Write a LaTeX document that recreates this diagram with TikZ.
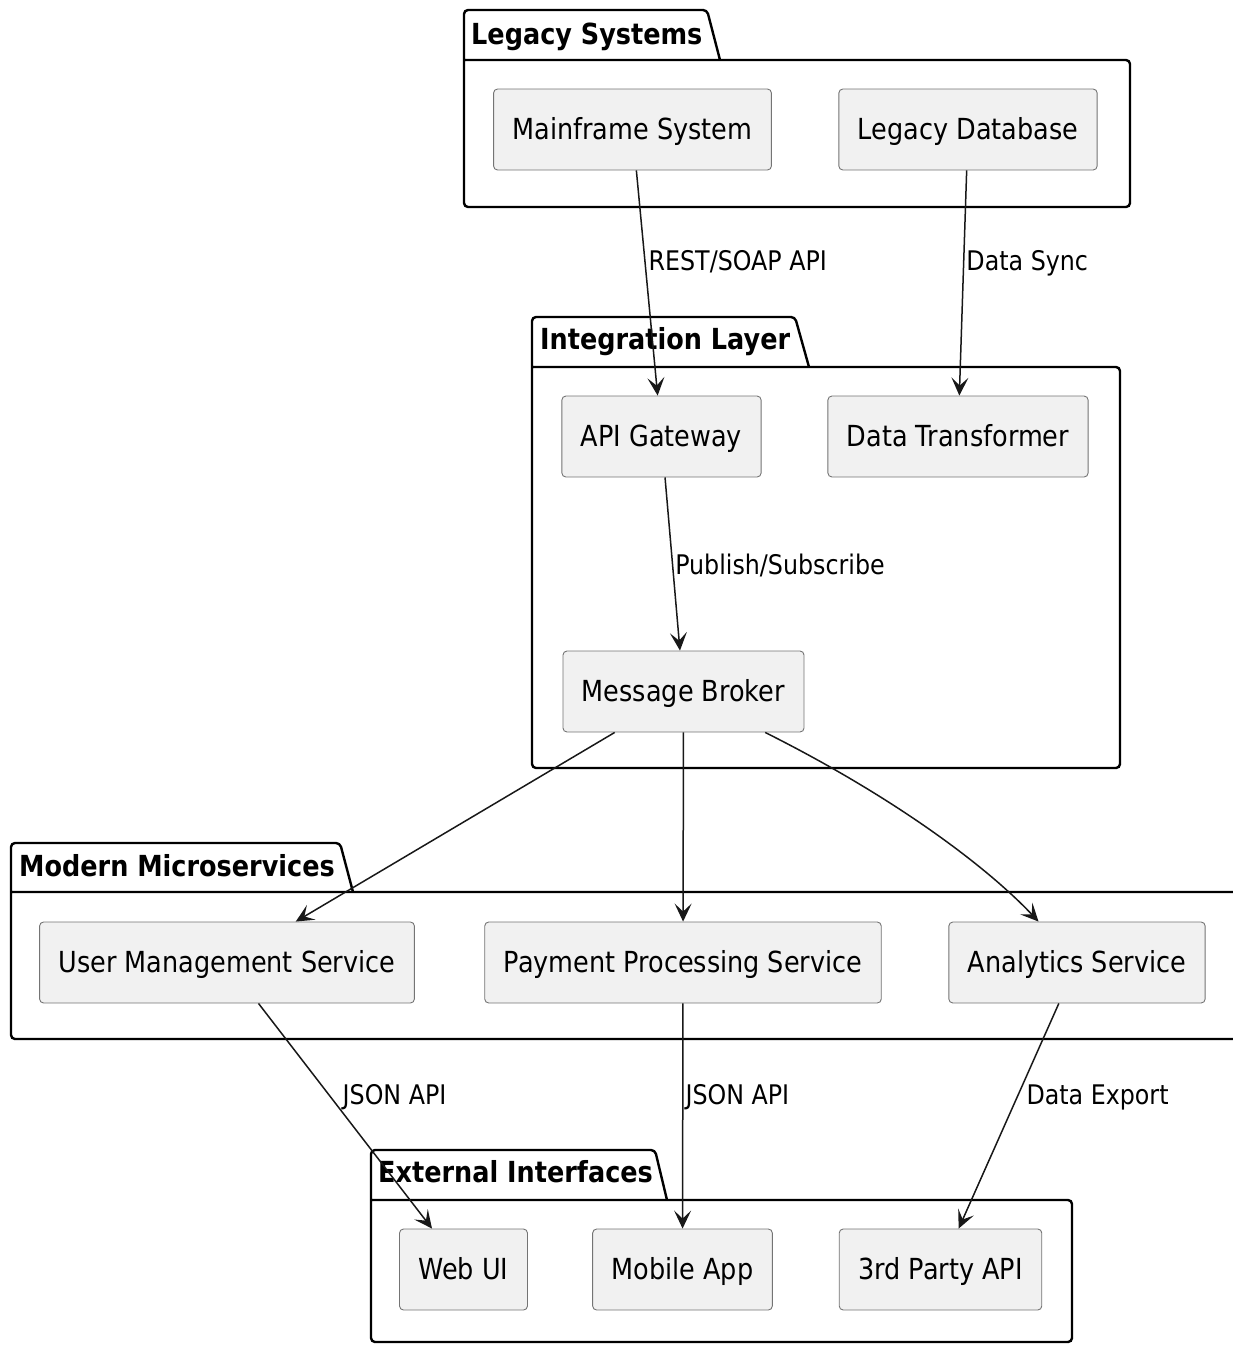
\documentclass[tikz,border=0pt]{standalone}
\usepackage{fontspec}
\setmainfont{DejaVu Sans}[FakeStretch=0.88]
\usepackage{xcolor}
\usepackage{tikz}
\usetikzlibrary{arrows.meta}
\definecolor{boxFill}{HTML}{F1F1F1}
\definecolor{lineColor}{HTML}{181818}

\begin{document}
\begin{tikzpicture}[x=1pt, y=-1pt,
    comp/.style={draw=lineColor!60, line width=0.9pt, fill=boxFill, rounded corners=4pt,
        minimum height=81pt, inner xsep=19pt, text height=24.5pt, text depth=4.5pt,
        font=\fontsize{29}{34}\selectfont},
    pkg/.style={draw=black, line width=2.4pt, rounded corners=4pt},
    pkgtitle/.style={anchor=base west, inner sep=0pt, font=\bfseries\fontsize{29}{34}\selectfont},
    link/.style={draw=lineColor, line width=1.5pt, -{Stealth[length=18pt, width=17pt, inset=8pt]}},
    lbl/.style={anchor=west, inner sep=0pt, yshift=-3pt, text height=20pt, text depth=5pt,
        font=\fontsize{27}{32}\selectfont}]
    \useasboundingbox (0,0) rectangle (1233,1345);

    % packages
    \draw[pkg] (720,60) -- (707,10) -- (464,10) -- (464,207) -- (1130,207) -- (1130,60) -- (464,60);
    \node[pkgtitle] (ttlLegacy) at (471,44) {Legacy Systems};
    \draw[pkg] (809,367) -- (795,317) -- (532,317) -- (532,768) -- (1120,768) -- (1120,367) -- (532,367);
    \node[pkgtitle] (ttlIntegration) at (540,349) {Integration Layer};
    \draw[pkg] (353,892) -- (340,843) -- (11,843) -- (11,1039) -- (1250,1039) -- (1250,892) -- (11,892);
    \node[pkgtitle] (ttlModern) at (19,876) {Modern Microservices};
    \draw[pkg] (667,1200) -- (655,1150) -- (371,1150) -- (371,1342) -- (1072,1342) -- (1072,1200) -- (371,1200);
    \node[pkgtitle] (ttlExternal) at (378,1182) {External Interfaces};

    % components
    \node[comp] (mainframe) at (632.5,129.5) {Mainframe System};
    \node[comp] (legacydb) at (968,129.5) {Legacy Database};
    \node[comp] (gateway) at (661.5,436.5) {API Gateway};
    \node[comp] (transformer) at (958,436.5) {Data Transformer};
    \node[comp] (broker) at (683.5,691.5) {Message Broker};
    \node[comp] (usermgmt) at (227,962.5) {User Management Service};
    \node[comp] (payment) at (683,962.5) {Payment Processing Service};
    \node[comp] (analytics) at (1077,962.5) {Analytics Service};
    \node[comp] (webui) at (463.5,1269.5) {Web UI};
    \node[comp] (mobile) at (682.5,1269.5) {Mobile App};
    \node[comp] (thirdparty) at (940.5,1269.5) {3rd Party API};

    % connections
    \draw[link] (mainframe) -- node[lbl, pos=0.4, xshift=3pt] (lblRest) {REST/SOAP API} (gateway);
    \draw[link] (legacydb) -- node[lbl, pos=0.4, xshift=2pt] (lblSync) {Data Sync} (transformer);
    \draw[link] (gateway) -- node[lbl, pos=0.5, xshift=2pt] (lblPubSub) {Publish/Subscribe} (broker);
    \draw[link] (broker) -- (usermgmt);
    \draw[link] (broker) -- (payment);
    \draw[link] (broker) .. controls (900,800) and (990,870) .. (analytics);
    \draw[link] (usermgmt) -- node[lbl, pos=0.4, xshift=14pt] (lblJsonWeb) {JSON API} (webui);
    \draw[link] (payment) -- node[lbl, pos=0.4, xshift=2pt] (lblJsonMobile) {JSON API} (mobile);
    \draw[link] (analytics) -- node[lbl, pos=0.4, xshift=7pt] (lblExport) {Data Export} (thirdparty);
\end{tikzpicture}
\end{document}
